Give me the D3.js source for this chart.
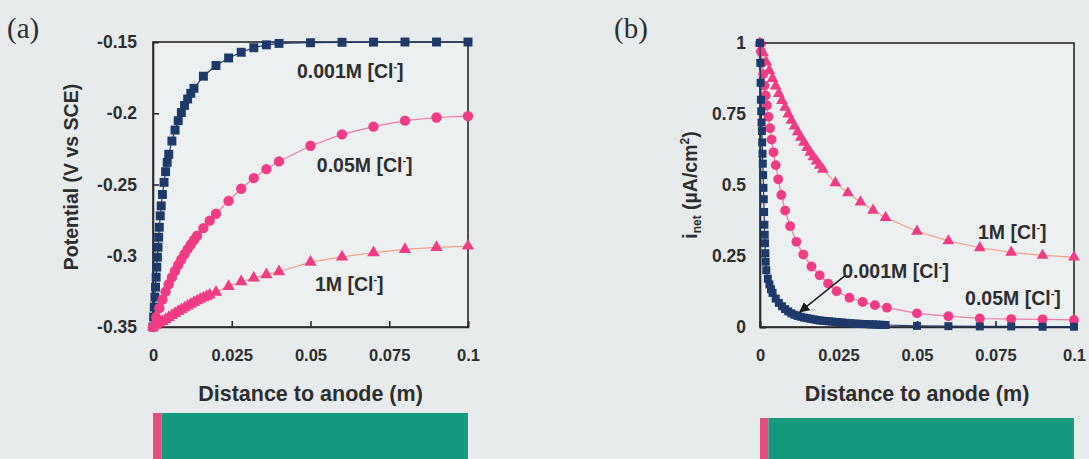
<!DOCTYPE html>
<meta charset="utf-8">
<script src="https://d3js.org/d3.v7.min.js"></script>
<style>
  body { margin: 0; background: #e7ebeb; }
  svg { display: block; }
  text { font-family: Arial, "Liberation Sans", sans-serif; font-weight: bold; fill: #2e2e2e; }
</style>
<body>
<svg id="chart" width="1089" height="459"></svg>
<script>
"use strict"

// tick values and labels
var xTicks = [0, 0.025, 0.05, 0.075, 0.1]
var xTickLabels = ["0", "0.025", "0.05", "0.075", "0.1"]
var yTicksA = [-0.35, -0.3, -0.25, -0.2, -0.15]
var yTickLabelsA = ["-0.35", "-0.3", "-0.25", "-0.2", "-0.15"]
var yTicksB = [0, 0.25, 0.5, 0.75, 1]
var yTickLabelsB = ["0", "0.25", "0.5", "0.75", "1"]

// (a) potential, 0.001M [Cl-]
var a001X = [0, 0.0002, 0.0004, 0.0006, 0.0008, 0.001, 0.0012, 0.0014, 0.0016, 0.0018, 0.002, 0.0023, 0.0026, 0.003, 0.0035, 0.004, 0.0045, 0.005, 0.006, 0.007, 0.008, 0.009, 0.010, 0.011, 0.012, 0.013, 0.016, 0.020, 0.024, 0.028, 0.032, 0.036, 0.040, 0.05, 0.06, 0.07, 0.08, 0.09, 0.1]
var a001Y = [-0.350, -0.343, -0.336, -0.329, -0.322, -0.315, -0.308, -0.301, -0.294, -0.287, -0.280, -0.272, -0.265, -0.257, -0.2485, -0.241, -0.2345, -0.2288, -0.2195, -0.2118, -0.2052, -0.1995, -0.1945, -0.190, -0.186, -0.1825, -0.174, -0.1665, -0.1612, -0.1572, -0.154, -0.152, -0.151, -0.1505, -0.1502, -0.1501, -0.150, -0.150, -0.150]

// (a) potential, 0.05M [Cl-]
var a005X = [0, 0.001, 0.002, 0.003, 0.004, 0.005, 0.006, 0.007, 0.008, 0.009, 0.010, 0.011, 0.012, 0.013, 0.014, 0.016, 0.018, 0.020, 0.024, 0.028, 0.032, 0.036, 0.040, 0.05, 0.06, 0.07, 0.08, 0.09, 0.1]
var a005Y = [-0.350, -0.3432, -0.3368, -0.3308, -0.3252, -0.320, -0.3152, -0.3107, -0.3065, -0.3026, -0.2989, -0.2954, -0.2921, -0.289, -0.286, -0.2806, -0.2754, -0.2705, -0.2615, -0.253, -0.2455, -0.2392, -0.2338, -0.2228, -0.2148, -0.2094, -0.2052, -0.203, -0.202]

// (a) potential, 1M [Cl-]
var a1X = [0, 0.001, 0.002, 0.003, 0.004, 0.005, 0.006, 0.007, 0.008, 0.009, 0.010, 0.011, 0.012, 0.013, 0.014, 0.015, 0.016, 0.017, 0.018, 0.020, 0.024, 0.028, 0.032, 0.036, 0.040, 0.05, 0.06, 0.07, 0.08, 0.09, 0.1]
var a1Y = [-0.350, -0.3488, -0.3475, -0.3461, -0.3447, -0.3433, -0.3419, -0.3405, -0.3391, -0.3378, -0.3365, -0.3352, -0.334, -0.3328, -0.3316, -0.3305, -0.3295, -0.3285, -0.3275, -0.3255, -0.3215, -0.3182, -0.3156, -0.3133, -0.3112, -0.3045, -0.3008, -0.2978, -0.2955, -0.2941, -0.2932]

// (b) net current, 0.001M [Cl-]
var b001X = [0, 0.0001, 0.0002, 0.0003, 0.0004, 0.0005, 0.0006, 0.0007, 0.0008, 0.0009, 0.001, 0.0011, 0.0012, 0.0013, 0.0014, 0.0015, 0.0016, 0.0017, 0.0018, 0.002, 0.0025, 0.003, 0.0035, 0.004, 0.005, 0.006, 0.007, 0.008, 0.009, 0.010, 0.011, 0.012, 0.013, 0.014, 0.015, 0.016, 0.017, 0.018, 0.019, 0.020, 0.021, 0.022, 0.023, 0.024, 0.025, 0.026, 0.027, 0.028, 0.029, 0.030, 0.031, 0.032, 0.033, 0.034, 0.035, 0.036, 0.037, 0.038, 0.039, 0.040, 0.05, 0.06, 0.07, 0.08, 0.09, 0.1]
var b001Y = [1.00, 0.93, 0.86, 0.80, 0.76, 0.72, 0.69, 0.65, 0.61, 0.575, 0.535, 0.49, 0.45, 0.405, 0.36, 0.325, 0.295, 0.26, 0.23, 0.20, 0.17, 0.15, 0.133, 0.12, 0.10, 0.085, 0.073, 0.063, 0.055, 0.048, 0.043, 0.039, 0.036, 0.033, 0.031, 0.029, 0.027, 0.025, 0.023, 0.022, 0.021, 0.020, 0.019, 0.018, 0.017, 0.016, 0.015, 0.014, 0.013, 0.012, 0.0115, 0.011, 0.0105, 0.010, 0.0095, 0.009, 0.0085, 0.008, 0.0075, 0.007, 0.004, 0.003, 0.002, 0.002, 0.001, 0.001]

// (b) net current, 0.05M [Cl-]
var b005X = [0, 0.0003, 0.0006, 0.001, 0.0014, 0.0018, 0.0022, 0.0027, 0.0032, 0.0037, 0.0043, 0.005, 0.0058, 0.0068, 0.008, 0.0096, 0.0116, 0.0138, 0.0164, 0.019, 0.0217, 0.0244, 0.0285, 0.0327, 0.0366, 0.0404, 0.05, 0.06, 0.07, 0.08, 0.09, 0.1]
var b005Y = [1.00, 0.97, 0.93, 0.89, 0.85, 0.815, 0.78, 0.74, 0.70, 0.66, 0.615, 0.57, 0.52, 0.465, 0.41, 0.355, 0.30, 0.255, 0.213, 0.182, 0.153, 0.126, 0.103, 0.088, 0.077, 0.068, 0.048, 0.038, 0.030, 0.028, 0.027, 0.025]

// (b) net current, 1M [Cl-]
var b1X = [0, 0.001, 0.002, 0.003, 0.004, 0.005, 0.006, 0.007, 0.008, 0.009, 0.010, 0.011, 0.012, 0.013, 0.014, 0.015, 0.016, 0.017, 0.018, 0.019, 0.020, 0.024, 0.028, 0.032, 0.036, 0.040, 0.05, 0.06, 0.07, 0.08, 0.09, 0.1]
var b1Y = [1.00, 0.965, 0.933, 0.903, 0.875, 0.848, 0.822, 0.797, 0.773, 0.750, 0.728, 0.707, 0.687, 0.668, 0.650, 0.632, 0.615, 0.599, 0.584, 0.569, 0.555, 0.508, 0.472, 0.440, 0.411, 0.385, 0.337, 0.303, 0.279, 0.263, 0.252, 0.246]

// electrode strip under each panel: anode then cathode (m)
var stripFrom = [0, 0.0027]
var stripTo = [0.0027, 0.1]

var NAVY = "#1d3a6b", PINK = "#f03c84"

var svg = d3.select("#chart")

function zip(xs, ys) { return xs.map(function(x, i) { return [x, ys[i]] }) }

function panel(opt) {
  var x = d3.scaleLinear().domain([0, 0.1]).range(opt.xr)
  var y = d3.scaleLinear().domain(opt.yd).range(opt.yr)
  var g = svg.append("g")

  // plot box
  g.append("rect")
    .attr("x", opt.xr[0]).attr("y", opt.yr[1])
    .attr("width", opt.xr[1] - opt.xr[0]).attr("height", opt.yr[0] - opt.yr[1])
    .attr("fill", "#edf0f0").attr("stroke", "#2b2b2b").attr("stroke-width", 1.6)

  var ya = g.append("g").attr("transform", "translate(" + opt.xr[0] + ",0)")
    .call(d3.axisLeft(y).tickValues(opt.yTicks).tickSize(-6).tickPadding(opt.yPad)
      .tickFormat(function(d, i) { return opt.yLabels[i] }))
  var xa = g.append("g").attr("transform", "translate(0," + opt.yr[0] + ")")
    .call(d3.axisBottom(x).tickValues(xTicks).tickSize(-6).tickPadding(22)
      .tickFormat(function(d, i) { return xTickLabels[i] }))
  ;[ya, xa].forEach(function(a) {
    a.select(".domain").attr("stroke", "#2b2b2b").attr("stroke-width", 1.6)
    a.selectAll(".tick line").attr("stroke", "#2b2b2b").attr("stroke-width", 1.6)
    a.selectAll("text").attr("font-family", null).attr("fill", "#2e2e2e")
  })
  ya.selectAll("text").attr("font-size", 17.5)
  xa.selectAll("text").attr("font-size", 16.5)

  // series
  opt.series.forEach(function(s) {
    var pts = zip(s.x, s.y)
    g.append("path").datum(pts)
      .attr("fill", "none").attr("stroke", s.line).attr("stroke-width", 1.2)
      .attr("d", d3.line().x(function(d) { return x(d[0]) }).y(function(d) { return y(d[1]) }))
    g.selectAll(null).data(pts).enter().append("path")
      .attr("transform", function(d) { return "translate(" + x(d[0]) + "," + y(d[1]) + ")" })
      .attr("d", d3.symbol().type(s.sym).size(s.size))
      .attr("fill", s.color)
  })

  // curve labels
  opt.labels.forEach(function(l) {
    var t = g.append("text").attr("x", x(l.x)).attr("y", y(l.y)).attr("font-size", 19.5)
    t.append("tspan").text(l.text + " [Cl")
    t.append("tspan").attr("font-size", 11).attr("dy", -8).text("-")
    t.append("tspan").attr("dy", 8).text("]")
  })

  // axis titles
  g.append("text").attr("x", (opt.xr[0] + opt.xr[1]) / 2).attr("y", 401)
    .attr("text-anchor", "middle").attr("font-size", 21.5).text("Distance to anode (m)")
  var yt = g.append("text").attr("transform", "translate(" + opt.ytx + "," + opt.yty + ") rotate(-90)")
    .attr("text-anchor", "middle").attr("font-size", 19.5)
  opt.yTitle(yt)

  // panel letter
  svg.append("text").attr("x", opt.letterX).attr("y", 38)
    .style("font-family", "'Liberation Serif', 'DejaVu Serif', serif").style("font-weight", "normal")
    .attr("font-size", 29).text(opt.letter)

  // electrode strip
  g.selectAll(null).data(stripFrom).enter().append("rect")
    .attr("x", function(d) { return x(d) })
    .attr("width", function(d, i) { return x(stripTo[i]) - x(d) })
    .attr("y", opt.stripY).attr("height", 459 - opt.stripY)
    .attr("fill", function(d, i) { return i == 0 ? "#e24f7c" : "#169a7f" })

  return { x: x, y: y, g: g }
}

panel({
  xr: [153, 468], yd: [-0.35, -0.15], yr: [327, 42],
  yTicks: yTicksA, yLabels: yTickLabelsA, yPad: 16,
  series: [
    { x: a001X, y: a001Y, sym: d3.symbolSquare, size: 80, color: NAVY, line: NAVY },
    { x: a005X, y: a005Y, sym: d3.symbolCircle, size: 85, color: PINK, line: "#f07aa4" },
    { x: a1X, y: a1Y, sym: d3.symbolTriangle, size: 66, color: PINK, line: "#f3a088" }
  ],
  labels: [
    { text: "0.001M", x: 0.0457, y: -0.1755 },
    { text: "0.05M", x: 0.052, y: -0.241 },
    { text: "1M", x: 0.0514, y: -0.325 }
  ],
  ytx: 78, yty: 177,
  yTitle: function(t) { t.text("Potential (V vs SCE)") },
  letter: "(a)", letterX: 7, stripY: 413
})

var pb = panel({
  xr: [760, 1074], yd: [0, 1], yr: [327, 43],
  yTicks: yTicksB, yLabels: yTickLabelsB, yPad: 14,
  series: [
    { x: b1X, y: b1Y, sym: d3.symbolTriangle, size: 60, color: PINK, line: "#f3a088" },
    { x: b005X, y: b005Y, sym: d3.symbolCircle, size: 76, color: PINK, line: "#f07aa4" },
    { x: b001X, y: b001Y, sym: d3.symbolSquare, size: 64, color: NAVY, line: NAVY }
  ],
  labels: [
    { text: "1M", x: 0.0694, y: 0.311 },
    { text: "0.001M", x: 0.0262, y: 0.174 },
    { text: "0.05M", x: 0.0653, y: 0.079 }
  ],
  ytx: 697, yty: 185,
  yTitle: function(t) {
    t.append("tspan").text("i")
    t.append("tspan").attr("font-size", 12).attr("dy", 4).text("net")
    t.append("tspan").attr("dy", -4).text(" (\u00b5A/cm")
    t.append("tspan").attr("font-size", 12).attr("dy", -8).text("2")
    t.append("tspan").attr("dy", 8).text(")")
  },
  letter: "(b)", letterX: 614, stripY: 418
})

// arrow pointing at the 0.001M curve
var arrowFrom = [0.027, 0.18], arrowTo = [0.0127, 0.053]
svg.append("defs").append("marker").attr("id", "ah")
  .attr("viewBox", "0 0 10 10").attr("refX", 9).attr("refY", 5)
  .attr("markerWidth", 7).attr("markerHeight", 7).attr("orient", "auto")
  .append("path").attr("d", "M0,0L10,5L0,10z").attr("fill", "#1e1e1e")
pb.g.append("line")
  .attr("x1", pb.x(arrowFrom[0])).attr("y1", pb.y(arrowFrom[1]))
  .attr("x2", pb.x(arrowTo[0])).attr("y2", pb.y(arrowTo[1]))
  .attr("stroke", "#1e1e1e").attr("stroke-width", 1.5).attr("marker-end", "url(#ah)")
</script>
